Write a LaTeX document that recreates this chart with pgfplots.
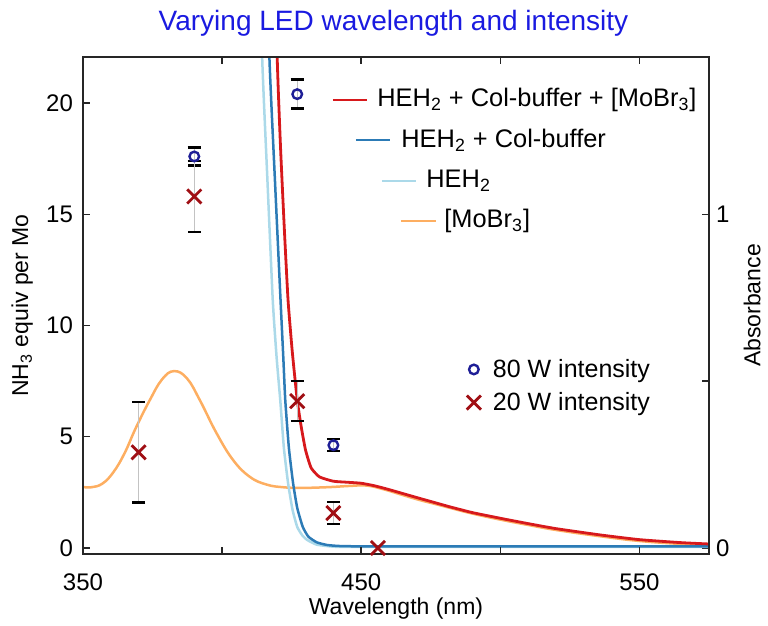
\documentclass[border=0pt]{standalone}
\usepackage{fontspec}
\setmainfont{Liberation Sans}
\usepackage{pgfplots}
\pgfplotsset{compat=1.18}

\definecolor{ttl}{RGB}{26,26,224}
\definecolor{axcol}{RGB}{38,38,38}
\definecolor{cRed}{RGB}{215,25,28}
\definecolor{cBlue}{RGB}{44,123,182}
\definecolor{cLight}{RGB}{171,217,233}
\definecolor{cOrange}{RGB}{253,174,97}
\definecolor{navy}{RGB}{30,30,150}
\definecolor{dred}{RGB}{160,15,20}
\definecolor{ebar}{RGB}{195,195,195}

% LED runs: wavelength, NH3 equiv per Mo, error
\pgfplotstableread{
x   y     e
390 17.6  0.40
427 20.4  0.65
440 4.62  0.27
}\highI
\pgfplotstableread{
x   y     e
370 4.3   2.25
390 15.8  1.6
427 6.6   0.9
440 1.57  0.5
}\lowI

\begin{document}
\begin{tikzpicture}
\pgfplotsset{
  base/.style={
    scale only axis, width=313pt, height=248.5pt,
    at={(0pt,0pt)}, anchor=south west,
    xmin=350, xmax=575,
    axis line style={axcol, line width=0.75pt},
    tick style={axcol, line width=0.75pt},
    major tick length=3.5pt,
    ticklabel style={font=\fontsize{12}{14}\selectfont, text=black},
    label style={font=\fontsize{11.5}{13}\selectfont},
    /pgf/number format/assume math mode=true,
  }
}

% absorbance spectra (right axis)
\begin{axis}[base,
  ymin=-0.018, ymax=1.4713,
  axis x line=none, axis y line*=right, tick align=inside,
  ytick={0,0.5,1}, yticklabels={0,,1},
  ylabel={Absorbance},
  ylabel style={at={(axis description cs:1.069,0.5)}, anchor=center},
]
\addplot[cOrange, line width=1.25pt, smooth, tension=0.7] coordinates {
 (350,0.183)(353,0.182)(357,0.193)(361,0.228)(365,0.285)(369,0.36)
 (374,0.443)(378.4,0.505)(382.7,0.53)(387.4,0.508)(392,0.443)
 (398,0.344)(404,0.263)(410,0.213)
 (416,0.19)(422,0.182)(428,0.18)(434,0.181)(440,0.183)(446,0.186)(452,0.187)
 (458,0.176)(464,0.161)(470,0.146)(476,0.133)(482,0.12)(490,0.103)(500,0.085)
 (510,0.069)(520,0.054)(536,0.035)(550,0.021)(565,0.012)(575,0.008)
};
\addplot[cLight, line width=1.25pt, smooth, tension=0.3] coordinates {
 (413,2.0)(414.4,1.47)(416.3,1.1)(418.2,0.743)(419.6,0.57)(420.9,0.443)
 (422.2,0.3)(423.7,0.195)(425.3,0.115)(427,0.063)(428.8,0.038)(430.6,0.024)
 (434,0.01)(440,0.004)(450,0.003)(575,0.003)
};
\addplot[cBlue, line width=1.25pt, smooth, tension=0.3] coordinates {
 (415.5,2.0)(417,1.47)(419,1.1)(421,0.743)(422,0.57)(422.7,0.443)(424,0.3)
 (425.5,0.195)(427,0.12)(429,0.063)(431,0.034)(434,0.017)(437.7,0.009)
 (442,0.006)(450,0.005)(500,0.005)(575,0.005)
};
\addplot[cRed, line width=1.4pt, smooth, tension=0.3] coordinates {
 (418.5,2.0)(419.8,1.47)(421,1.2)(422.4,0.95)(423.7,0.743)(425.2,0.59)
 (427,0.443)(428.5,0.36)(430,0.293)(432,0.24)(435,0.213)(440,0.2)(445,0.197)
 (450,0.194)(455,0.186)(460,0.175)(465,0.163)(470,0.151)(476,0.137)
 (482,0.123)(490,0.106)(500,0.089)(510,0.073)(520,0.058)(536,0.039)
 (550,0.025)(565,0.016)(575,0.012)
};
\end{axis}

% NH3 yields (left axis)
\begin{axis}[base,
  ymin=-0.27, ymax=22.07,
  tick align=inside,
  xtick={350,400,...,550}, xticklabels={350,,450,,550},
  ytick={0,5,...,20},
  xtick pos=both, ytick pos=left,
  xticklabel style={yshift=-6.5pt},
  yticklabel style={xshift=-1.5pt},
  xlabel={Wavelength (nm)},
  xlabel style={at={(axis description cs:0.5,-0.109)}, anchor=center},
  ylabel={NH\textsubscript{3} equiv per Mo},
  ylabel style={at={(axis description cs:-0.097,0.5)}, anchor=center},
  title={Varying LED wavelength and intensity},
  title style={at={(axis description cs:0.496,1.044)}, anchor=center,
    text=ttl, font=\fontsize{14}{16}\selectfont},
  legend style={draw=none, fill=none, at={(axis description cs:0.596,0.338)},
    anchor=west, font=\fontsize{12.5}{15}\selectfont, row sep=4pt,
    nodes={inner sep=1pt}},
  legend cell align=left,
  legend image code/.code={\draw[#1] plot coordinates {(0.2cm,0cm)};
    \path[draw=none] (0cm,0cm) -- (0.5cm,0cm);},
]
\addplot[only marks, mark=o, navy, mark size=2.4pt, mark options={line width=1.2pt},
  error bars/.cd, y dir=both, y explicit,
  error bar style={ebar, line width=0.7pt},
  error mark options={rotate=90, draw=black, line width=1.2pt, mark size=3.3pt}]
  table[x=x, y=y, y error=e] {\highI};
\addlegendentry{80 W intensity}
\addplot[only marks, mark=x, dred, mark size=5pt, mark options={line width=1.4pt},
  error bars/.cd, y dir=both, y explicit,
  error bar style={ebar, line width=0.7pt},
  error mark options={rotate=90, draw=black, line width=1.2pt, mark size=3.3pt}]
  table[x=x, y=y, y error=e] {\lowI};
\addlegendentry{20 W intensity}
\addplot[only marks, mark=x, dred, mark size=5pt, mark options={line width=1.4pt},
  forget plot] coordinates {(456,0)};
\end{axis}

% spectra legend
\begin{scope}[font=\fontsize{12.7}{15}\selectfont]
\draw[cRed, line width=1.4pt] (125pt,227pt) -- (142pt,227pt);
\node[anchor=west, inner sep=0pt] at (147pt,227pt)
  {HEH\textsubscript{2} + Col-buffer + [MoBr\textsubscript{3}]};
\draw[cBlue, line width=1.25pt] (136.5pt,207pt) -- (153.5pt,207pt);
\node[anchor=west, inner sep=0pt] at (159pt,207pt)
  {HEH\textsubscript{2} + Col-buffer};
\draw[cLight, line width=1.25pt] (149.5pt,186.5pt) -- (166.5pt,186.5pt);
\node[anchor=west, inner sep=0pt] at (171.5pt,186.5pt) {HEH\textsubscript{2}};
\draw[cOrange, line width=1.25pt] (159pt,166.5pt) -- (176.5pt,166.5pt);
\node[anchor=west, inner sep=0pt] at (180.5pt,166.5pt) {[MoBr\textsubscript{3}]};
\end{scope}

\pgfresetboundingbox
\path (-41.5pt,-36pt) rectangle (342.5pt,277pt);
\end{tikzpicture}
\end{document}
